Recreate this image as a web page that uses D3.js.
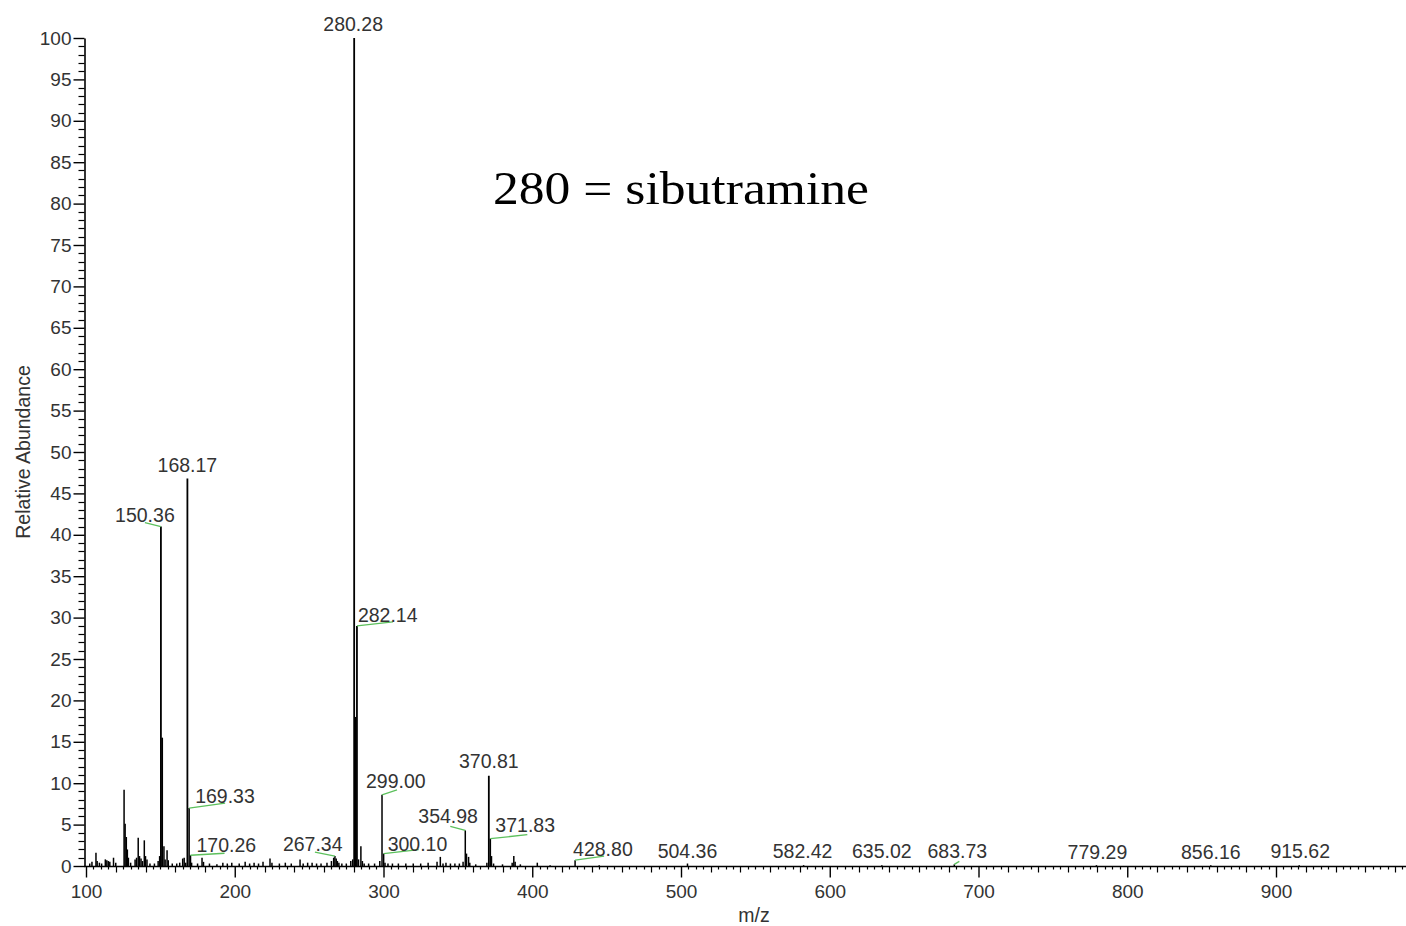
<!DOCTYPE html>
<html>
<head>
<meta charset="utf-8">
<script src="https://cdn.jsdelivr.net/npm/d3@7"></script>
<style>
  html, body { margin: 0; padding: 0; background: #fff; }
  svg { display: block; }
</style>
</head>
<body>
<svg id="chart" width="1406" height="926"></svg>
<script>
// ---------- DATA ----------
const peakMz = [102.5,104,106.7,107.5,109,110.5,113,114,115,116,118.5,120,
  125.6,126.3,127.1,127.8,128.5,130,133,134,135.1,136,137,138,139.2,140,141,143,146,148.5,149.5,
  150.36,151.2,152.4,153.2,154.5,155.3,158,161,163,165,166,167,168.17,169.33,170.26,171,175,178,179,183,188,
  192,195,198,203,207,210,213,216,219,223.7,225,230,234,238,243.9,246,249,252,255,258,262,265,266.5,
  267.34,268.2,269,270,272,275,278,279.3,280.28,281.2,282.14,283.2,284.8,285.8,287,290,294,297.5,
  299.00,300.10,301,303,306,310,315,320,325,330,336,338.2,340,342,345,348,351,353.5,354.98,355.8,357.2,358,
  362,369.5,370.81,371.83,372.6,374,380,386.5,387.6,388.5,392,403.4,412,428.80,445,504.36,582.42,635.02,
  683.73,779.29,856.16,915.62];
const peakAbundance = [0.3,0.5,1.6,0.6,0.4,0.3,0.8,0.7,0.6,0.5,1.0,0.4,
  9.2,5.1,3.5,2.0,1.0,0.4,0.8,1.0,3.4,1.2,0.9,0.6,3.1,1.2,0.8,0.3,0.3,0.6,1.2,
  41.0,15.5,2.4,0.8,1.9,0.7,0.3,0.3,0.4,0.9,1.0,0.4,46.8,7.0,1.3,0.4,0.3,1.0,0.5,0.3,0.2,
  0.4,0.3,0.4,0.3,0.5,0.3,0.4,0.3,0.5,0.9,0.4,0.3,0.4,0.3,0.8,0.3,0.4,0.4,0.3,0.3,0.4,0.6,1.0,
  1.2,0.9,0.6,0.4,0.3,0.3,0.6,0.8,100,18.0,29.0,0.8,2.4,0.6,0.3,0.3,0.3,0.6,
  8.6,1.5,0.4,0.3,0.3,0.3,0.3,0.3,0.3,0.4,0.5,1.1,0.3,0.4,0.3,0.3,0.3,0.5,4.3,1.5,1.1,0.4,
  0.2,0.4,10.9,3.3,1.2,0.3,0.2,0.4,1.2,0.5,0.2,0.4,0.1,0.7,0.1,0.3,0.1,0.1,
  0.2,0.1,0.1,0.1];
const labelledMz = ["280.28","168.17","150.36","282.14","169.33","170.26","267.34","299.00","300.10",
  "354.98","370.81","371.83","428.80","504.36","582.42","635.02","683.73","779.29","856.16","915.62"];
const xTickValues = [100,200,300,400,500,600,700,800,900];
const yTickValues = [0,5,10,15,20,25,30,35,40,45,50,55,60,65,70,75,80,85,90,95,100];
const xAxisTitle = "m/z";
const yAxisTitle = "Relative Abundance";
const annotationText = "280 = sibutramine";

// ---------- LAYOUT (label placement: dx, dy from peak top, anchor, leader end offsets) ----------
const labelLayout = {
  "280.28": {dx:-1, dy:-7, anchor:"middle"},
  "168.17": {dx:0, dy:-6, anchor:"middle"},
  "150.36": {dx:-16, dy:-5, anchor:"middle", ldx:-16, ldy:-4},
  "282.14": {dx:1, dy:-4, anchor:"start", ldx:36, ldy:-4},
  "169.33": {dx:6, dy:-5, anchor:"start", ldx:36, ldy:-5},
  "170.26": {dx:6, dy:-3, anchor:"start", ldx:34, ldy:-2},
  "267.34": {dx:-52, dy:-5, anchor:"start", ldx:-20, ldy:-4},
  "299.00": {dx:-16, dy:-7, anchor:"start", ldx:15, ldy:-5},
  "300.10": {dx:4, dy:-3, anchor:"start", ldx:35, ldy:-4},
  "354.98": {dx:-47, dy:-7, anchor:"start", ldx:-15, ldy:-4},
  "370.81": {dx:0, dy:-8, anchor:"middle"},
  "371.83": {dx:5, dy:-7, anchor:"start", ldx:37, ldy:-4},
  "428.80": {dx:-2, dy:-4, anchor:"start", ldx:29, ldy:-4},
  "504.36": {dx:0, dy:-6, anchor:"middle"},
  "582.42": {dx:-1, dy:-7, anchor:"middle"},
  "635.02": {dx:0, dy:-7, anchor:"middle"},
  "683.73": {dx:3, dy:-6, anchor:"middle", ldx:5, ldy:-3},
  "779.29": {dx:1, dy:-6, anchor:"middle"},
  "856.16": {dx:0, dy:-6, anchor:"middle"},
  "915.62": {dx:1, dy:-7, anchor:"middle"}
};

const svg = d3.select("#chart");
const W = 1406, H = 926;
const x = d3.scaleLinear().domain([100, 1000]).range([86, 86 + 900 * 1.4875]);
const y = d3.scaleLinear().domain([0, 100]).range([866, 38]);
const font = "'Liberation Sans', Arial, sans-serif";
const textColor = "#333";

svg.append("rect").attr("width", W).attr("height", H).attr("fill", "#fff");

// peaks
const peaks = peakMz.map((m, i) => ({mz: m, v: peakAbundance[i]}));
svg.append("g").selectAll("line").data(peaks).join("line")
  .attr("x1", d => x(d.mz)).attr("x2", d => x(d.mz))
  .attr("y1", y(0)).attr("y2", d => y(d.v))
  .attr("stroke", "#000").attr("stroke-width", d => d.v > 10 ? 1.8 : 1.5);

// Y axis
const yAxisX = 84.5;
const yAxis = d3.axisLeft(y).tickValues(yTickValues).tickSize(11).tickSizeOuter(0).tickPadding(2);
const gy = svg.append("g").attr("transform", `translate(${yAxisX},0)`).call(yAxis);
gy.select(".domain").attr("stroke", "#000").attr("stroke-width", 1.6);
gy.selectAll(".tick line").attr("stroke", "#000").attr("stroke-width", 1.4);
gy.selectAll(".tick text").attr("font-family", font).attr("font-size", 19).attr("fill", textColor);
const yMinor = d3.range(0, 101, 1).filter(v => v % 5 !== 0);
svg.append("g").selectAll("line").data(yMinor).join("line")
  .attr("x1", yAxisX - 6).attr("x2", yAxisX)
  .attr("y1", d => Math.round(y(d)) + 0.5).attr("y2", d => Math.round(y(d)) + 0.5)
  .attr("stroke", "#000").attr("stroke-width", 1.2);

// X axis
const axisY = 866.5;
svg.append("line").attr("x1", 84).attr("x2", W).attr("y1", axisY).attr("y2", axisY)
  .attr("stroke", "#000").attr("stroke-width", 1.6);
const xAxis = d3.axisBottom(x).tickValues(xTickValues).tickSize(11).tickSizeOuter(0).tickPadding(7)
  .tickFormat(d3.format("d"));
const gx = svg.append("g").attr("transform", `translate(0,${axisY})`).call(xAxis);
gx.select(".domain").remove();
gx.selectAll(".tick line").attr("stroke", "#000").attr("stroke-width", 1.4);
gx.selectAll(".tick text").attr("font-family", font).attr("font-size", 19).attr("fill", textColor);
const xMinor = d3.range(100, 1000, 5).filter(v => v % 100 !== 0);
svg.append("g").selectAll("line").data(xMinor).join("line")
  .attr("x1", d => Math.round(x(d)) + 0.5).attr("x2", d => Math.round(x(d)) + 0.5)
  .attr("y1", axisY).attr("y2", d => axisY + (d % 20 === 0 ? 6 : 3))
  .attr("stroke", "#000").attr("stroke-width", 1.2);

// peak labels + leader lines
const lab = svg.append("g");
labelledMz.forEach(s => {
  const m = +s;
  const idx = peakMz.indexOf(m);
  const v = peakAbundance[idx];
  const px = x(m), py = y(v);
  const L = labelLayout[s];
  if (L.ldx !== undefined) {
    lab.append("line").attr("x1", px).attr("y1", py)
      .attr("x2", px + L.ldx).attr("y2", py + L.ldy)
      .attr("stroke", "#5cc05c").attr("stroke-width", 1.3);
  }
  lab.append("text").attr("x", px + L.dx).attr("y", py + L.dy)
    .attr("text-anchor", L.anchor)
    .attr("font-family", font).attr("font-size", 19.5).attr("fill", textColor)
    .text(s);
});

// axis titles
svg.append("text").attr("transform", "translate(30,452) rotate(-90)")
  .attr("text-anchor", "middle").attr("font-family", font).attr("font-size", 19.5)
  .attr("fill", textColor).text(yAxisTitle);
svg.append("text").attr("x", 754).attr("y", 922).attr("text-anchor", "middle")
  .attr("font-family", font).attr("font-size", 19.5).attr("fill", textColor).text(xAxisTitle);

// annotation
svg.append("text").attr("x", 493).attr("y", 204)
  .attr("font-family", "'Liberation Serif', 'DejaVu Serif', serif").attr("font-size", 46)
  .attr("fill", "#000").attr("textLength", 376).attr("lengthAdjust", "spacingAndGlyphs")
  .text(annotationText);
</script>
</body>
</html>
